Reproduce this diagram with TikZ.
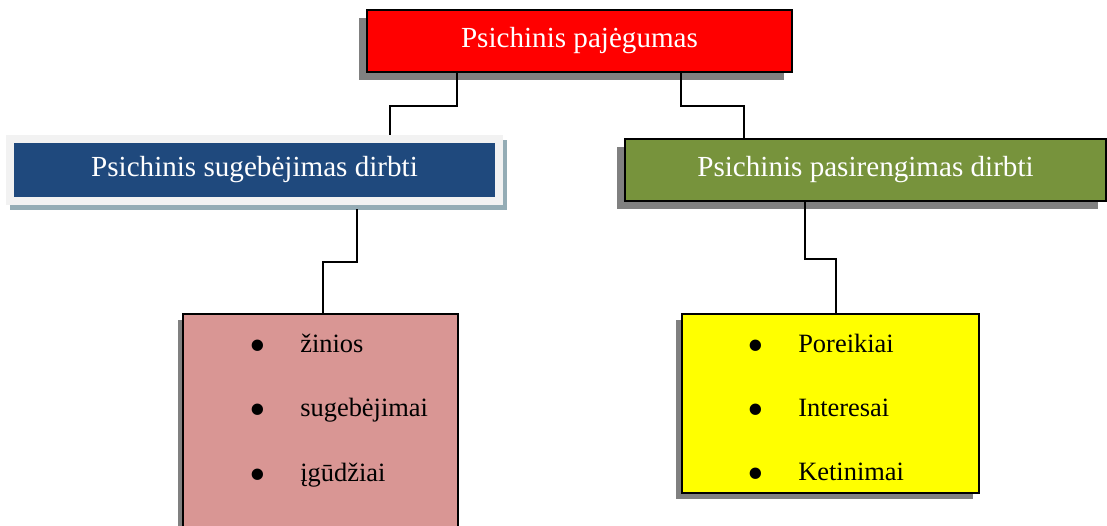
\documentclass[tikz,border=0pt]{standalone}
\usepackage{fontspec}
\setmainfont{Liberation Serif}
\usetikzlibrary{shadows}
\definecolor{CapacityRed}{RGB}{255,0,0}
\definecolor{AbilityBlue}{RGB}{31,73,125}
\definecolor{AbilityFrame}{RGB}{242,242,242}
\definecolor{AbilityShadow}{RGB}{148,172,181}
\definecolor{ReadinessGreen}{RGB}{119,147,60}
\definecolor{SkillsPink}{RGB}{217,150,148}
\definecolor{NeedsYellow}{RGB}{255,255,0}
\definecolor{ShadowGray}{RGB}{128,128,128}
\newcommand{\itembullet}{\makebox[1.2cm][l]{\hspace{-0.08cm}\raisebox{-6.5pt}{\scalebox{1.8}{\textbullet}}}}

\begin{document}
\begin{tikzpicture}[x=0.025cm,y=-0.025cm,
  every node/.style={font=\fontsize{20.7}{24}\selectfont},
  box/.style={draw,line width=1.2pt,inner sep=0pt},
  link/.style={line width=1.2pt},
  listitem/.style={anchor=base west,inner sep=0pt,font=\fontsize{18.8}{22}\selectfont}]
\clip (0,0) rectangle (1107,526);
% boxes
\node[box,fill=CapacityRed,text=white,minimum width=10.625cm,minimum height=1.55cm,drop shadow={shadow xshift=-0.2cm,shadow yshift=-0.2cm,fill=ShadowGray,opacity=1}] (capacity) at (579.5,41) {Psichinis pajėgumas};
\node[draw=AbilityFrame,line width=0.2cm,fill=AbilityBlue,text=white,inner sep=0pt,minimum width=12.2375cm,minimum height=1.55cm,drop shadow={shadow xshift=0.1cm,shadow yshift=-0.125cm,fill=AbilityShadow,draw=AbilityShadow,line width=0.2cm,opacity=1}] (ability) at (254.5,170) {Psichinis sugebėjimas dirbti};
\node[box,fill=ReadinessGreen,text=white,minimum width=12.025cm,minimum height=1.55cm,drop shadow={shadow xshift=-0.2cm,shadow yshift=-0.2cm,fill=ShadowGray,opacity=1}] (readiness) at (865.5,170) {Psichinis pasirengimas dirbti};
\node[box,fill=SkillsPink,minimum width=6.875cm,minimum height=6.5cm,drop shadow={shadow xshift=-0.125cm,shadow yshift=-0.15cm,fill=ShadowGray,opacity=1}] (skills) at (320.5,444) {};
\node[box,fill=NeedsYellow,minimum width=7.425cm,minimum height=4.475cm,drop shadow={shadow xshift=-0.15cm,shadow yshift=-0.15cm,fill=ShadowGray,opacity=1}] (needs) at (830.5,403.5) {};
% list items
\node[listitem] (zinios) at (252,352) {\itembullet žinios};
\node[listitem] (sugebejimai) at (252,416.5) {\itembullet sugebėjimai};
\node[listitem] (igudziai) at (252,481) {\itembullet įgūdžiai};
\node[listitem] (poreikiai) at (750,352) {\itembullet Poreikiai};
\node[listitem] (interesai) at (750,416) {\itembullet Interesai};
\node[listitem] (ketinimai) at (750,480) {\itembullet Ketinimai};
% connectors
\draw[link] ([xshift=-3.0625cm]capacity.south) -- ++(0,33) -| ([xshift=3.3875cm]ability.north);
\draw[link] ([xshift=2.5375cm]capacity.south) -- ++(0,33) -| ([xshift=-3.0375cm]readiness.north);
\draw[link] ([xshift=2.5625cm,yshift=-0.1cm]ability.south) -- ++(0,53) -| ([xshift=0.0625cm]skills.north);
\draw[link] ([xshift=-1.5125cm]readiness.south) -- ++(0,57) -| ([xshift=0.1375cm]needs.north);
\end{tikzpicture}
\end{document}
